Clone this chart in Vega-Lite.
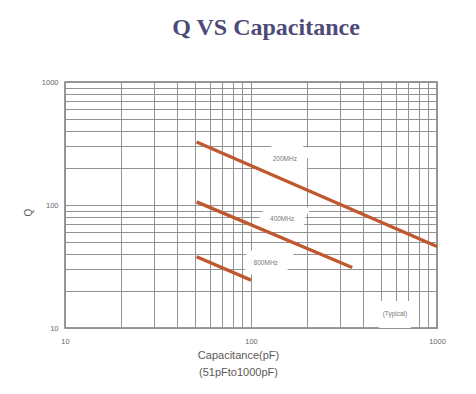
{
  "$schema": "https://vega.github.io/schema/vega-lite/v6.json",
  "width": 372,
  "height": 246,
  "autosize": {"type": "none"},
  "padding": {"left": 65, "top": 82, "right": 39, "bottom": 66},
  "background": "white",
  "title": {
    "text": "Q VS Capacitance",
    "font": "Liberation Serif",
    "fontSize": 24,
    "fontWeight": "bold",
    "color": "#4d4a78",
    "anchor": "middle",
    "dx": 15,
    "offset": 38
  },
  "datasets": {
    "curves": [
      {"C": 51, "Q": 325, "freq": "200MHz"},
      {"C": 1000, "Q": 46, "freq": "200MHz"},
      {"C": 51, "Q": 106, "freq": "400MHz"},
      {"C": 350, "Q": 31, "freq": "400MHz"},
      {"C": 51, "Q": 38, "freq": "800MHz"},
      {"C": 100, "Q": 24.5, "freq": "800MHz"}
    ],
    "notes": [
      {"C": 152, "Q": 237, "label": "200MHz"},
      {"C": 147, "Q": 77, "label": "400MHz"},
      {"C": 120, "Q": 33.7, "label": "800MHz"},
      {"C": 594, "Q": 13, "label": "(Typical)"}
    ]
  },
  "encoding": {
    "x": {
      "field": "C",
      "type": "quantitative",
      "scale": {"type": "log", "domain": [10, 1000], "nice": false},
      "axis": {
        "values": [10, 20, 30, 40, 50, 60, 70, 80, 90, 100, 200, 300, 400, 500, 600, 700, 800, 900, 1000],
        "format": "d",
        "labelExpr": "datum.value == 10 || datum.value == 100 || datum.value == 1000 ? datum.label : ''",
        "labelFlush": false,
        "labelOverlap": false,
        "title": ["Capacitance(pF)", "(51pFto1000pF)"],
        "titleX": 173,
        "titleY": 30,
        "titleBaseline": "alphabetic",
        "titleLineHeight": 17,
        "titleFontSize": 11,
        "titleFontWeight": "normal",
        "titleColor": "#5a5a5a",
        "titleFont": "Liberation Sans",
        "labelFontSize": 7.5,
        "labelColor": "#666",
        "labelPadding": 9,
        "labelFont": "Liberation Sans",
        "ticks": false,
        "domain": false,
        "grid": true,
        "gridColor": "#939393",
        "gridWidth": 1,
        "gridOpacity": 1
      }
    },
    "y": {
      "field": "Q",
      "type": "quantitative",
      "scale": {"type": "log", "domain": [10, 1000], "nice": false},
      "axis": {
        "values": [10, 20, 30, 40, 50, 60, 70, 80, 90, 100, 200, 300, 400, 500, 600, 700, 800, 900, 1000],
        "format": "d",
        "labelExpr": "datum.value == 10 || datum.value == 100 || datum.value == 1000 ? datum.label : ''",
        "labelFlush": false,
        "labelOverlap": false,
        "title": "Q",
        "titleX": -32,
        "titleY": 130,
        "titleFontSize": 10,
        "titleFontWeight": "normal",
        "titleColor": "#5a5a5a",
        "titleFont": "Liberation Sans",
        "labelFontSize": 7.5,
        "labelColor": "#666",
        "labelPadding": 7,
        "labelFont": "Liberation Sans",
        "ticks": false,
        "domain": false,
        "grid": true,
        "gridColor": "#939393",
        "gridWidth": 1,
        "gridOpacity": 1
      }
    }
  },
  "layer": [
    {
      "data": {"name": "notes"},
      "mark": {"type": "text", "fontSize": 6.5, "font": "Liberation Sans", "stroke": "white", "strokeWidth": 20, "strokeJoin": "miter", "fill": "white"},
      "encoding": {"text": {"field": "label"}}
    },
    {
      "data": {"name": "curves"},
      "mark": {"type": "line", "color": "#c0582f", "strokeWidth": 3.3, "strokeCap": "butt"},
      "encoding": {"detail": {"field": "freq"}}
    },
    {
      "data": {"name": "notes"},
      "mark": {"type": "text", "fontSize": 6.5, "font": "Liberation Sans", "color": "#777"},
      "encoding": {"text": {"field": "label"}}
    }
  ],
  "config": {
    "view": {"stroke": "#777", "strokeWidth": 1.5}
  }
}
